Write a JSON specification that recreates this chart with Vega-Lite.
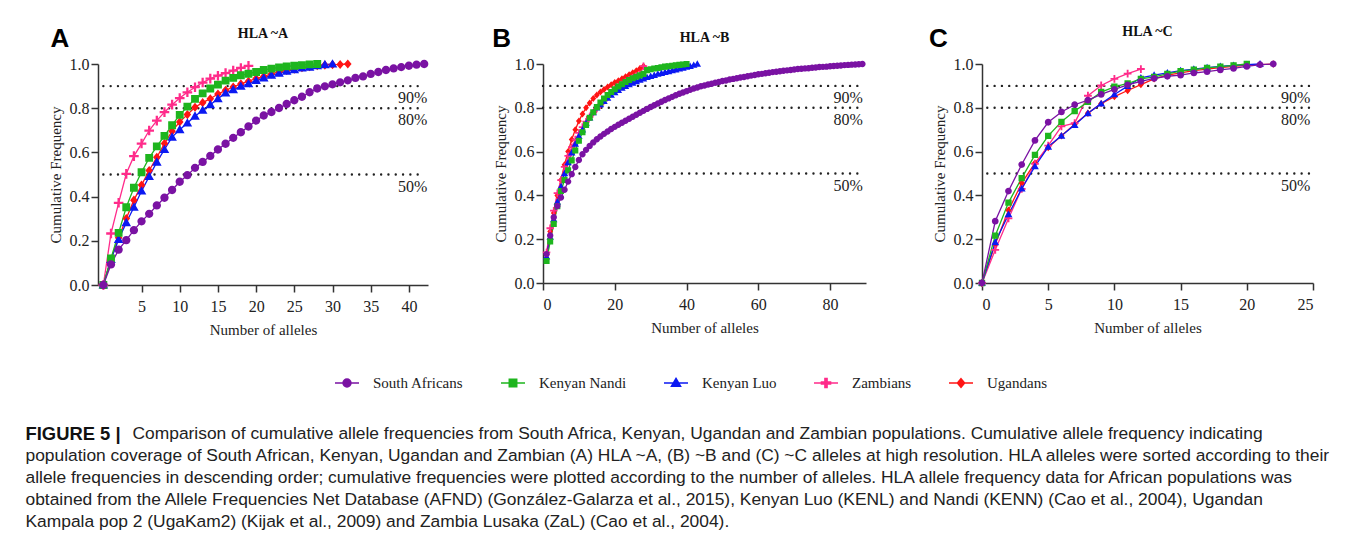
{
  "$schema": "https://vega.github.io/schema/vega-lite/v6.json",
  "background": "white",
  "padding": {"left": 25, "top": 24, "right": 5, "bottom": 5},
  "datasets": {
    "refs": [{"lvl": 0.5, "lab": "50%"}, {"lvl": 0.8, "lab": "80%"}, {"lvl": 0.9, "lab": "90%"}],
    "caption": [
      {"line": 1, "part": "bold", "text": "FIGURE 5 |"},
      {"line": 1, "part": "lead", "text": "Comparison of cumulative allele frequencies from South Africa, Kenyan, Ugandan and Zambian populations. Cumulative allele frequency indicating"},
      {"line": 2, "part": "body", "text": "population coverage of South African, Kenyan, Ugandan and Zambian (A) HLA ~A, (B) ~B and (C) ~C alleles at high resolution. HLA alleles were sorted according to their"},
      {"line": 3, "part": "body", "text": "allele frequencies in descending order; cumulative frequencies were plotted according to the number of alleles. HLA allele frequency data for African populations was"},
      {"line": 4, "part": "body", "text": "obtained from the Allele Frequencies Net Database (AFND) (González-Galarza et al., 2015), Kenyan Luo (KENL) and Nandi (KENN) (Cao et al., 2004), Ugandan"},
      {"line": 5, "part": "body", "text": "Kampala pop 2 (UgaKam2) (Kijak et al., 2009) and Zambia Lusaka (ZaL) (Cao et al., 2004)."}
    ],
    "letters": [{"panel": "A", "n": -5.7, "f": 1.115}, {"panel": "B", "n": -11.5, "f": 1.116}, {"panel": "C", "n": -3.3, "f": 1.116}],
    "curves": [
      {"panel":"A","pop":"Ugandans","n":0,"f":0},{"panel":"A","pop":"Ugandans","n":1,"f":0.116},{"panel":"A","pop":"Ugandans","n":2,"f":0.214},{"panel":"A","pop":"Ugandans","n":3,"f":0.301},{"panel":"A","pop":"Ugandans","n":4,"f":0.384},{"panel":"A","pop":"Ugandans","n":5,"f":0.452},{"panel":"A","pop":"Ugandans","n":6,"f":0.518},{"panel":"A","pop":"Ugandans","n":7,"f":0.578},{"panel":"A","pop":"Ugandans","n":8,"f":0.64},{"panel":"A","pop":"Ugandans","n":9,"f":0.696},{"panel":"A","pop":"Ugandans","n":10,"f":0.738},{"panel":"A","pop":"Ugandans","n":11,"f":0.771},{"panel":"A","pop":"Ugandans","n":12,"f":0.804},{"panel":"A","pop":"Ugandans","n":13,"f":0.825},{"panel":"A","pop":"Ugandans","n":14,"f":0.843},{"panel":"A","pop":"Ugandans","n":15,"f":0.864},{"panel":"A","pop":"Ugandans","n":16,"f":0.881},{"panel":"A","pop":"Ugandans","n":17,"f":0.896},{"panel":"A","pop":"Ugandans","n":18,"f":0.91},{"panel":"A","pop":"Ugandans","n":19,"f":0.922},{"panel":"A","pop":"Ugandans","n":20,"f":0.934},{"panel":"A","pop":"Ugandans","n":21,"f":0.944},{"panel":"A","pop":"Ugandans","n":22,"f":0.955},{"panel":"A","pop":"Ugandans","n":23,"f":0.964},{"panel":"A","pop":"Ugandans","n":24,"f":0.971},{"panel":"A","pop":"Ugandans","n":25,"f":0.977},{"panel":"A","pop":"Ugandans","n":26,"f":0.983},{"panel":"A","pop":"Ugandans","n":27,"f":0.988},{"panel":"A","pop":"Ugandans","n":28,"f":0.992},{"panel":"A","pop":"Ugandans","n":29,"f":0.995},{"panel":"A","pop":"Ugandans","n":30,"f":0.997},{"panel":"A","pop":"Ugandans","n":31,"f":0.998},{"panel":"A","pop":"Ugandans","n":32,"f":1.0},
      {"panel":"A","pop":"Zambians","n":0,"f":0},{"panel":"A","pop":"Zambians","n":1,"f":0.233},{"panel":"A","pop":"Zambians","n":2,"f":0.372},{"panel":"A","pop":"Zambians","n":3,"f":0.503},{"panel":"A","pop":"Zambians","n":4,"f":0.583},{"panel":"A","pop":"Zambians","n":5,"f":0.64},{"panel":"A","pop":"Zambians","n":6,"f":0.699},{"panel":"A","pop":"Zambians","n":7,"f":0.744},{"panel":"A","pop":"Zambians","n":8,"f":0.782},{"panel":"A","pop":"Zambians","n":9,"f":0.816},{"panel":"A","pop":"Zambians","n":10,"f":0.846},{"panel":"A","pop":"Zambians","n":11,"f":0.872},{"panel":"A","pop":"Zambians","n":12,"f":0.895},{"panel":"A","pop":"Zambians","n":13,"f":0.916},{"panel":"A","pop":"Zambians","n":14,"f":0.934},{"panel":"A","pop":"Zambians","n":15,"f":0.947},{"panel":"A","pop":"Zambians","n":16,"f":0.959},{"panel":"A","pop":"Zambians","n":17,"f":0.97},{"panel":"A","pop":"Zambians","n":18,"f":0.982},{"panel":"A","pop":"Zambians","n":19,"f":0.992},
      {"panel":"A","pop":"Kenyan Luo","n":0,"f":0},{"panel":"A","pop":"Kenyan Luo","n":1,"f":0.116},{"panel":"A","pop":"Kenyan Luo","n":2,"f":0.206},{"panel":"A","pop":"Kenyan Luo","n":3,"f":0.282},{"panel":"A","pop":"Kenyan Luo","n":4,"f":0.352},{"panel":"A","pop":"Kenyan Luo","n":5,"f":0.425},{"panel":"A","pop":"Kenyan Luo","n":6,"f":0.491},{"panel":"A","pop":"Kenyan Luo","n":7,"f":0.556},{"panel":"A","pop":"Kenyan Luo","n":8,"f":0.613},{"panel":"A","pop":"Kenyan Luo","n":9,"f":0.669},{"panel":"A","pop":"Kenyan Luo","n":10,"f":0.703},{"panel":"A","pop":"Kenyan Luo","n":11,"f":0.733},{"panel":"A","pop":"Kenyan Luo","n":12,"f":0.764},{"panel":"A","pop":"Kenyan Luo","n":13,"f":0.791},{"panel":"A","pop":"Kenyan Luo","n":14,"f":0.816},{"panel":"A","pop":"Kenyan Luo","n":15,"f":0.843},{"panel":"A","pop":"Kenyan Luo","n":16,"f":0.869},{"panel":"A","pop":"Kenyan Luo","n":17,"f":0.884},{"panel":"A","pop":"Kenyan Luo","n":18,"f":0.899},{"panel":"A","pop":"Kenyan Luo","n":19,"f":0.911},{"panel":"A","pop":"Kenyan Luo","n":20,"f":0.925},{"panel":"A","pop":"Kenyan Luo","n":21,"f":0.937},{"panel":"A","pop":"Kenyan Luo","n":22,"f":0.949},{"panel":"A","pop":"Kenyan Luo","n":23,"f":0.958},{"panel":"A","pop":"Kenyan Luo","n":24,"f":0.967},{"panel":"A","pop":"Kenyan Luo","n":25,"f":0.974},{"panel":"A","pop":"Kenyan Luo","n":26,"f":0.982},{"panel":"A","pop":"Kenyan Luo","n":27,"f":0.986},{"panel":"A","pop":"Kenyan Luo","n":28,"f":0.992},{"panel":"A","pop":"Kenyan Luo","n":29,"f":0.997},{"panel":"A","pop":"Kenyan Luo","n":30,"f":1.0},
      {"panel":"A","pop":"Kenyan Nandi","n":0,"f":0},{"panel":"A","pop":"Kenyan Nandi","n":1,"f":0.12},{"panel":"A","pop":"Kenyan Nandi","n":2,"f":0.236},{"panel":"A","pop":"Kenyan Nandi","n":3,"f":0.352},{"panel":"A","pop":"Kenyan Nandi","n":4,"f":0.44},{"panel":"A","pop":"Kenyan Nandi","n":5,"f":0.51},{"panel":"A","pop":"Kenyan Nandi","n":6,"f":0.575},{"panel":"A","pop":"Kenyan Nandi","n":7,"f":0.627},{"panel":"A","pop":"Kenyan Nandi","n":8,"f":0.675},{"panel":"A","pop":"Kenyan Nandi","n":9,"f":0.723},{"panel":"A","pop":"Kenyan Nandi","n":10,"f":0.77},{"panel":"A","pop":"Kenyan Nandi","n":11,"f":0.807},{"panel":"A","pop":"Kenyan Nandi","n":12,"f":0.842},{"panel":"A","pop":"Kenyan Nandi","n":13,"f":0.867},{"panel":"A","pop":"Kenyan Nandi","n":14,"f":0.889},{"panel":"A","pop":"Kenyan Nandi","n":15,"f":0.907},{"panel":"A","pop":"Kenyan Nandi","n":16,"f":0.925},{"panel":"A","pop":"Kenyan Nandi","n":17,"f":0.937},{"panel":"A","pop":"Kenyan Nandi","n":18,"f":0.949},{"panel":"A","pop":"Kenyan Nandi","n":19,"f":0.956},{"panel":"A","pop":"Kenyan Nandi","n":20,"f":0.964},{"panel":"A","pop":"Kenyan Nandi","n":21,"f":0.973},{"panel":"A","pop":"Kenyan Nandi","n":22,"f":0.979},{"panel":"A","pop":"Kenyan Nandi","n":23,"f":0.985},{"panel":"A","pop":"Kenyan Nandi","n":24,"f":0.989},{"panel":"A","pop":"Kenyan Nandi","n":25,"f":0.992},{"panel":"A","pop":"Kenyan Nandi","n":26,"f":0.995},{"panel":"A","pop":"Kenyan Nandi","n":27,"f":0.998},{"panel":"A","pop":"Kenyan Nandi","n":28,"f":1.0},
      {"panel":"A","pop":"South Africans","n":0,"f":0},{"panel":"A","pop":"South Africans","n":1,"f":0.093},{"panel":"A","pop":"South Africans","n":2,"f":0.16},{"panel":"A","pop":"South Africans","n":3,"f":0.203},{"panel":"A","pop":"South Africans","n":4,"f":0.248},{"panel":"A","pop":"South Africans","n":5,"f":0.288},{"panel":"A","pop":"South Africans","n":6,"f":0.322},{"panel":"A","pop":"South Africans","n":7,"f":0.36},{"panel":"A","pop":"South Africans","n":8,"f":0.395},{"panel":"A","pop":"South Africans","n":9,"f":0.43},{"panel":"A","pop":"South Africans","n":10,"f":0.467},{"panel":"A","pop":"South Africans","n":11,"f":0.497},{"panel":"A","pop":"South Africans","n":12,"f":0.53},{"panel":"A","pop":"South Africans","n":13,"f":0.557},{"panel":"A","pop":"South Africans","n":14,"f":0.584},{"panel":"A","pop":"South Africans","n":15,"f":0.613},{"panel":"A","pop":"South Africans","n":16,"f":0.639},{"panel":"A","pop":"South Africans","n":17,"f":0.666},{"panel":"A","pop":"South Africans","n":18,"f":0.691},{"panel":"A","pop":"South Africans","n":19,"f":0.717},{"panel":"A","pop":"South Africans","n":20,"f":0.744},{"panel":"A","pop":"South Africans","n":21,"f":0.767},{"panel":"A","pop":"South Africans","n":22,"f":0.783},{"panel":"A","pop":"South Africans","n":23,"f":0.801},{"panel":"A","pop":"South Africans","n":24,"f":0.819},{"panel":"A","pop":"South Africans","n":25,"f":0.836},{"panel":"A","pop":"South Africans","n":26,"f":0.852},{"panel":"A","pop":"South Africans","n":27,"f":0.872},{"panel":"A","pop":"South Africans","n":28,"f":0.889},{"panel":"A","pop":"South Africans","n":29,"f":0.899},{"panel":"A","pop":"South Africans","n":30,"f":0.908},{"panel":"A","pop":"South Africans","n":31,"f":0.917},{"panel":"A","pop":"South Africans","n":32,"f":0.926},{"panel":"A","pop":"South Africans","n":33,"f":0.937},{"panel":"A","pop":"South Africans","n":34,"f":0.944},{"panel":"A","pop":"South Africans","n":35,"f":0.955},{"panel":"A","pop":"South Africans","n":36,"f":0.964},{"panel":"A","pop":"South Africans","n":37,"f":0.973},{"panel":"A","pop":"South Africans","n":38,"f":0.98},{"panel":"A","pop":"South Africans","n":39,"f":0.986},{"panel":"A","pop":"South Africans","n":40,"f":0.992},{"panel":"A","pop":"South Africans","n":41,"f":0.997},{"panel":"A","pop":"South Africans","n":42,"f":1.0},

      {"panel":"B","pop":"Ugandans","n":1,"f":0.13},{"panel":"B","pop":"Ugandans","n":2,"f":0.235},{"panel":"B","pop":"Ugandans","n":3,"f":0.32},{"panel":"B","pop":"Ugandans","n":4,"f":0.4},{"panel":"B","pop":"Ugandans","n":5,"f":0.47},{"panel":"B","pop":"Ugandans","n":6,"f":0.54},{"panel":"B","pop":"Ugandans","n":7,"f":0.6},{"panel":"B","pop":"Ugandans","n":8,"f":0.655},{"panel":"B","pop":"Ugandans","n":9,"f":0.7},{"panel":"B","pop":"Ugandans","n":10,"f":0.74},{"panel":"B","pop":"Ugandans","n":11,"f":0.772},{"panel":"B","pop":"Ugandans","n":12,"f":0.8},{"panel":"B","pop":"Ugandans","n":13,"f":0.822},{"panel":"B","pop":"Ugandans","n":14,"f":0.842},{"panel":"B","pop":"Ugandans","n":15,"f":0.858},{"panel":"B","pop":"Ugandans","n":16,"f":0.872},{"panel":"B","pop":"Ugandans","n":17,"f":0.884},{"panel":"B","pop":"Ugandans","n":18,"f":0.895},{"panel":"B","pop":"Ugandans","n":19,"f":0.905},{"panel":"B","pop":"Ugandans","n":20,"f":0.915},{"panel":"B","pop":"Ugandans","n":21,"f":0.924},{"panel":"B","pop":"Ugandans","n":22,"f":0.933},{"panel":"B","pop":"Ugandans","n":23,"f":0.942},{"panel":"B","pop":"Ugandans","n":24,"f":0.951},{"panel":"B","pop":"Ugandans","n":25,"f":0.96},{"panel":"B","pop":"Ugandans","n":26,"f":0.969},{"panel":"B","pop":"Ugandans","n":27,"f":0.979},{"panel":"B","pop":"Ugandans","n":28,"f":0.99},
      {"panel":"B","pop":"Zambians","n":1,"f":0.14},{"panel":"B","pop":"Zambians","n":2,"f":0.25},{"panel":"B","pop":"Zambians","n":3,"f":0.33},{"panel":"B","pop":"Zambians","n":4,"f":0.41},{"panel":"B","pop":"Zambians","n":5,"f":0.47},{"panel":"B","pop":"Zambians","n":6,"f":0.53},{"panel":"B","pop":"Zambians","n":7,"f":0.58},{"panel":"B","pop":"Zambians","n":8,"f":0.62},{"panel":"B","pop":"Zambians","n":9,"f":0.655},{"panel":"B","pop":"Zambians","n":10,"f":0.685},{"panel":"B","pop":"Zambians","n":11,"f":0.712},{"panel":"B","pop":"Zambians","n":12,"f":0.737},{"panel":"B","pop":"Zambians","n":13,"f":0.758},{"panel":"B","pop":"Zambians","n":14,"f":0.778},{"panel":"B","pop":"Zambians","n":15,"f":0.797},{"panel":"B","pop":"Zambians","n":16,"f":0.815},{"panel":"B","pop":"Zambians","n":17,"f":0.833},{"panel":"B","pop":"Zambians","n":18,"f":0.85},{"panel":"B","pop":"Zambians","n":19,"f":0.866},{"panel":"B","pop":"Zambians","n":20,"f":0.881},{"panel":"B","pop":"Zambians","n":21,"f":0.895},{"panel":"B","pop":"Zambians","n":22,"f":0.907},{"panel":"B","pop":"Zambians","n":23,"f":0.918},{"panel":"B","pop":"Zambians","n":24,"f":0.928},{"panel":"B","pop":"Zambians","n":25,"f":0.937},{"panel":"B","pop":"Zambians","n":26,"f":0.945},{"panel":"B","pop":"Zambians","n":27,"f":0.953},{"panel":"B","pop":"Zambians","n":28,"f":0.99},
      {"panel":"B","pop":"Kenyan Luo","n":1,"f":0.12},{"panel":"B","pop":"Kenyan Luo","n":2,"f":0.21},{"panel":"B","pop":"Kenyan Luo","n":3,"f":0.29},{"panel":"B","pop":"Kenyan Luo","n":4,"f":0.37},{"panel":"B","pop":"Kenyan Luo","n":5,"f":0.44},{"panel":"B","pop":"Kenyan Luo","n":6,"f":0.5},{"panel":"B","pop":"Kenyan Luo","n":7,"f":0.55},{"panel":"B","pop":"Kenyan Luo","n":8,"f":0.595},{"panel":"B","pop":"Kenyan Luo","n":9,"f":0.635},{"panel":"B","pop":"Kenyan Luo","n":10,"f":0.67},{"panel":"B","pop":"Kenyan Luo","n":11,"f":0.7},{"panel":"B","pop":"Kenyan Luo","n":12,"f":0.73},{"panel":"B","pop":"Kenyan Luo","n":13,"f":0.755},{"panel":"B","pop":"Kenyan Luo","n":14,"f":0.778},{"panel":"B","pop":"Kenyan Luo","n":15,"f":0.8},{"panel":"B","pop":"Kenyan Luo","n":16,"f":0.815},{"panel":"B","pop":"Kenyan Luo","n":17,"f":0.83},{"panel":"B","pop":"Kenyan Luo","n":18,"f":0.845},{"panel":"B","pop":"Kenyan Luo","n":19,"f":0.858},{"panel":"B","pop":"Kenyan Luo","n":20,"f":0.87},{"panel":"B","pop":"Kenyan Luo","n":21,"f":0.88},{"panel":"B","pop":"Kenyan Luo","n":22,"f":0.89},{"panel":"B","pop":"Kenyan Luo","n":23,"f":0.898},{"panel":"B","pop":"Kenyan Luo","n":24,"f":0.906},{"panel":"B","pop":"Kenyan Luo","n":25,"f":0.913},{"panel":"B","pop":"Kenyan Luo","n":26,"f":0.92},{"panel":"B","pop":"Kenyan Luo","n":27,"f":0.927},{"panel":"B","pop":"Kenyan Luo","n":28,"f":0.933},{"panel":"B","pop":"Kenyan Luo","n":29,"f":0.939},{"panel":"B","pop":"Kenyan Luo","n":30,"f":0.944},{"panel":"B","pop":"Kenyan Luo","n":31,"f":0.949},{"panel":"B","pop":"Kenyan Luo","n":32,"f":0.954},{"panel":"B","pop":"Kenyan Luo","n":33,"f":0.958},{"panel":"B","pop":"Kenyan Luo","n":34,"f":0.962},{"panel":"B","pop":"Kenyan Luo","n":35,"f":0.966},{"panel":"B","pop":"Kenyan Luo","n":36,"f":0.97},{"panel":"B","pop":"Kenyan Luo","n":37,"f":0.974},{"panel":"B","pop":"Kenyan Luo","n":38,"f":0.978},{"panel":"B","pop":"Kenyan Luo","n":39,"f":0.982},{"panel":"B","pop":"Kenyan Luo","n":40,"f":0.986},{"panel":"B","pop":"Kenyan Luo","n":41,"f":0.99},{"panel":"B","pop":"Kenyan Luo","n":42,"f":0.995},{"panel":"B","pop":"Kenyan Luo","n":43,"f":1.0},
      {"panel":"B","pop":"Kenyan Nandi","n":1,"f":0.1},{"panel":"B","pop":"Kenyan Nandi","n":2,"f":0.19},{"panel":"B","pop":"Kenyan Nandi","n":3,"f":0.27},{"panel":"B","pop":"Kenyan Nandi","n":4,"f":0.35},{"panel":"B","pop":"Kenyan Nandi","n":5,"f":0.42},{"panel":"B","pop":"Kenyan Nandi","n":6,"f":0.47},{"panel":"B","pop":"Kenyan Nandi","n":7,"f":0.515},{"panel":"B","pop":"Kenyan Nandi","n":8,"f":0.56},{"panel":"B","pop":"Kenyan Nandi","n":9,"f":0.605},{"panel":"B","pop":"Kenyan Nandi","n":10,"f":0.65},{"panel":"B","pop":"Kenyan Nandi","n":11,"f":0.688},{"panel":"B","pop":"Kenyan Nandi","n":12,"f":0.722},{"panel":"B","pop":"Kenyan Nandi","n":13,"f":0.755},{"panel":"B","pop":"Kenyan Nandi","n":14,"f":0.78},{"panel":"B","pop":"Kenyan Nandi","n":15,"f":0.803},{"panel":"B","pop":"Kenyan Nandi","n":16,"f":0.824},{"panel":"B","pop":"Kenyan Nandi","n":17,"f":0.842},{"panel":"B","pop":"Kenyan Nandi","n":18,"f":0.858},{"panel":"B","pop":"Kenyan Nandi","n":19,"f":0.872},{"panel":"B","pop":"Kenyan Nandi","n":20,"f":0.885},{"panel":"B","pop":"Kenyan Nandi","n":21,"f":0.897},{"panel":"B","pop":"Kenyan Nandi","n":22,"f":0.908},{"panel":"B","pop":"Kenyan Nandi","n":23,"f":0.918},{"panel":"B","pop":"Kenyan Nandi","n":24,"f":0.927},{"panel":"B","pop":"Kenyan Nandi","n":25,"f":0.935},{"panel":"B","pop":"Kenyan Nandi","n":26,"f":0.942},{"panel":"B","pop":"Kenyan Nandi","n":27,"f":0.948},{"panel":"B","pop":"Kenyan Nandi","n":28,"f":0.955},{"panel":"B","pop":"Kenyan Nandi","n":29,"f":0.972},{"panel":"B","pop":"Kenyan Nandi","n":30,"f":0.976},{"panel":"B","pop":"Kenyan Nandi","n":31,"f":0.979},{"panel":"B","pop":"Kenyan Nandi","n":32,"f":0.982},{"panel":"B","pop":"Kenyan Nandi","n":33,"f":0.985},{"panel":"B","pop":"Kenyan Nandi","n":34,"f":0.988},{"panel":"B","pop":"Kenyan Nandi","n":35,"f":0.99},{"panel":"B","pop":"Kenyan Nandi","n":36,"f":0.992},{"panel":"B","pop":"Kenyan Nandi","n":37,"f":0.994},{"panel":"B","pop":"Kenyan Nandi","n":38,"f":0.996},{"panel":"B","pop":"Kenyan Nandi","n":39,"f":0.998},{"panel":"B","pop":"Kenyan Nandi","n":40,"f":1.0},
      {"panel":"B","pop":"South Africans","n":1,"f":0.132},{"panel":"B","pop":"South Africans","n":2,"f":0.217},{"panel":"B","pop":"South Africans","n":3,"f":0.3},{"panel":"B","pop":"South Africans","n":4,"f":0.352},{"panel":"B","pop":"South Africans","n":5,"f":0.39},{"panel":"B","pop":"South Africans","n":6,"f":0.426},{"panel":"B","pop":"South Africans","n":7,"f":0.463},{"panel":"B","pop":"South Africans","n":8,"f":0.497},{"panel":"B","pop":"South Africans","n":9,"f":0.53},{"panel":"B","pop":"South Africans","n":10,"f":0.562},{"panel":"B","pop":"South Africans","n":11,"f":0.588},{"panel":"B","pop":"South Africans","n":12,"f":0.608},{"panel":"B","pop":"South Africans","n":13,"f":0.626},{"panel":"B","pop":"South Africans","n":14,"f":0.642},{"panel":"B","pop":"South Africans","n":15,"f":0.656},{"panel":"B","pop":"South Africans","n":16,"f":0.669},{"panel":"B","pop":"South Africans","n":17,"f":0.681},{"panel":"B","pop":"South Africans","n":18,"f":0.692},{"panel":"B","pop":"South Africans","n":19,"f":0.703},{"panel":"B","pop":"South Africans","n":20,"f":0.713},{"panel":"B","pop":"South Africans","n":21,"f":0.723},{"panel":"B","pop":"South Africans","n":22,"f":0.732},{"panel":"B","pop":"South Africans","n":23,"f":0.741},{"panel":"B","pop":"South Africans","n":24,"f":0.75},{"panel":"B","pop":"South Africans","n":25,"f":0.759},{"panel":"B","pop":"South Africans","n":26,"f":0.768},{"panel":"B","pop":"South Africans","n":27,"f":0.777},{"panel":"B","pop":"South Africans","n":28,"f":0.786},{"panel":"B","pop":"South Africans","n":29,"f":0.795},{"panel":"B","pop":"South Africans","n":30,"f":0.804},{"panel":"B","pop":"South Africans","n":31,"f":0.812},{"panel":"B","pop":"South Africans","n":32,"f":0.82},{"panel":"B","pop":"South Africans","n":33,"f":0.828},{"panel":"B","pop":"South Africans","n":34,"f":0.836},{"panel":"B","pop":"South Africans","n":35,"f":0.843},{"panel":"B","pop":"South Africans","n":36,"f":0.85},{"panel":"B","pop":"South Africans","n":37,"f":0.857},{"panel":"B","pop":"South Africans","n":38,"f":0.864},{"panel":"B","pop":"South Africans","n":39,"f":0.87},{"panel":"B","pop":"South Africans","n":40,"f":0.876},{"panel":"B","pop":"South Africans","n":41,"f":0.882},{"panel":"B","pop":"South Africans","n":42,"f":0.888},{"panel":"B","pop":"South Africans","n":43,"f":0.893},{"panel":"B","pop":"South Africans","n":44,"f":0.898},{"panel":"B","pop":"South Africans","n":45,"f":0.902},{"panel":"B","pop":"South Africans","n":46,"f":0.906},{"panel":"B","pop":"South Africans","n":47,"f":0.91},{"panel":"B","pop":"South Africans","n":48,"f":0.914},{"panel":"B","pop":"South Africans","n":49,"f":0.918},{"panel":"B","pop":"South Africans","n":50,"f":0.922},{"panel":"B","pop":"South Africans","n":51,"f":0.925},{"panel":"B","pop":"South Africans","n":52,"f":0.929},{"panel":"B","pop":"South Africans","n":53,"f":0.932},{"panel":"B","pop":"South Africans","n":54,"f":0.935},{"panel":"B","pop":"South Africans","n":55,"f":0.938},{"panel":"B","pop":"South Africans","n":56,"f":0.941},{"panel":"B","pop":"South Africans","n":57,"f":0.944},{"panel":"B","pop":"South Africans","n":58,"f":0.947},{"panel":"B","pop":"South Africans","n":59,"f":0.95},{"panel":"B","pop":"South Africans","n":60,"f":0.953},{"panel":"B","pop":"South Africans","n":61,"f":0.955},{"panel":"B","pop":"South Africans","n":62,"f":0.958},{"panel":"B","pop":"South Africans","n":63,"f":0.96},{"panel":"B","pop":"South Africans","n":64,"f":0.963},{"panel":"B","pop":"South Africans","n":65,"f":0.965},{"panel":"B","pop":"South Africans","n":66,"f":0.967},{"panel":"B","pop":"South Africans","n":67,"f":0.969},{"panel":"B","pop":"South Africans","n":68,"f":0.971},{"panel":"B","pop":"South Africans","n":69,"f":0.973},{"panel":"B","pop":"South Africans","n":70,"f":0.975},{"panel":"B","pop":"South Africans","n":71,"f":0.977},{"panel":"B","pop":"South Africans","n":72,"f":0.978},{"panel":"B","pop":"South Africans","n":73,"f":0.98},{"panel":"B","pop":"South Africans","n":74,"f":0.981},{"panel":"B","pop":"South Africans","n":75,"f":0.983},{"panel":"B","pop":"South Africans","n":76,"f":0.984},{"panel":"B","pop":"South Africans","n":77,"f":0.986},{"panel":"B","pop":"South Africans","n":78,"f":0.987},{"panel":"B","pop":"South Africans","n":79,"f":0.988},{"panel":"B","pop":"South Africans","n":80,"f":0.99},{"panel":"B","pop":"South Africans","n":81,"f":0.991},{"panel":"B","pop":"South Africans","n":82,"f":0.992},{"panel":"B","pop":"South Africans","n":83,"f":0.993},{"panel":"B","pop":"South Africans","n":84,"f":0.995},{"panel":"B","pop":"South Africans","n":85,"f":0.996},{"panel":"B","pop":"South Africans","n":86,"f":0.997},{"panel":"B","pop":"South Africans","n":87,"f":0.998},{"panel":"B","pop":"South Africans","n":88,"f":0.999},{"panel":"B","pop":"South Africans","n":89,"f":1.0},

      {"panel":"C","pop":"Ugandans","n":0,"f":0},{"panel":"C","pop":"Ugandans","n":1,"f":0.177},{"panel":"C","pop":"Ugandans","n":2,"f":0.332},{"panel":"C","pop":"Ugandans","n":3,"f":0.456},{"panel":"C","pop":"Ugandans","n":4,"f":0.548},{"panel":"C","pop":"Ugandans","n":5,"f":0.619},{"panel":"C","pop":"Ugandans","n":6,"f":0.672},{"panel":"C","pop":"Ugandans","n":7,"f":0.725},{"panel":"C","pop":"Ugandans","n":8,"f":0.775},{"panel":"C","pop":"Ugandans","n":9,"f":0.819},{"panel":"C","pop":"Ugandans","n":10,"f":0.851},{"panel":"C","pop":"Ugandans","n":11,"f":0.879},{"panel":"C","pop":"Ugandans","n":12,"f":0.906},{"panel":"C","pop":"Ugandans","n":13,"f":0.932},{"panel":"C","pop":"Ugandans","n":14,"f":0.949},{"panel":"C","pop":"Ugandans","n":15,"f":0.959},{"panel":"C","pop":"Ugandans","n":16,"f":0.97},{"panel":"C","pop":"Ugandans","n":17,"f":0.977},{"panel":"C","pop":"Ugandans","n":18,"f":0.983},{"panel":"C","pop":"Ugandans","n":19,"f":0.989},{"panel":"C","pop":"Ugandans","n":20,"f":0.994},{"panel":"C","pop":"Ugandans","n":21,"f":0.997},{"panel":"C","pop":"Ugandans","n":22,"f":1.0},
      {"panel":"C","pop":"Zambians","n":0,"f":0},{"panel":"C","pop":"Zambians","n":1,"f":0.151},{"panel":"C","pop":"Zambians","n":2,"f":0.295},{"panel":"C","pop":"Zambians","n":3,"f":0.43},{"panel":"C","pop":"Zambians","n":4,"f":0.544},{"panel":"C","pop":"Zambians","n":5,"f":0.627},{"panel":"C","pop":"Zambians","n":6,"f":0.715},{"panel":"C","pop":"Zambians","n":7,"f":0.73},{"panel":"C","pop":"Zambians","n":8,"f":0.855},{"panel":"C","pop":"Zambians","n":9,"f":0.902},{"panel":"C","pop":"Zambians","n":10,"f":0.932},{"panel":"C","pop":"Zambians","n":11,"f":0.956},{"panel":"C","pop":"Zambians","n":12,"f":0.977},
      {"panel":"C","pop":"Kenyan Luo","n":0,"f":0},{"panel":"C","pop":"Kenyan Luo","n":1,"f":0.186},{"panel":"C","pop":"Kenyan Luo","n":2,"f":0.313},{"panel":"C","pop":"Kenyan Luo","n":3,"f":0.431},{"panel":"C","pop":"Kenyan Luo","n":4,"f":0.532},{"panel":"C","pop":"Kenyan Luo","n":5,"f":0.622},{"panel":"C","pop":"Kenyan Luo","n":6,"f":0.672},{"panel":"C","pop":"Kenyan Luo","n":7,"f":0.721},{"panel":"C","pop":"Kenyan Luo","n":8,"f":0.775},{"panel":"C","pop":"Kenyan Luo","n":9,"f":0.819},{"panel":"C","pop":"Kenyan Luo","n":10,"f":0.861},{"panel":"C","pop":"Kenyan Luo","n":11,"f":0.899},{"panel":"C","pop":"Kenyan Luo","n":12,"f":0.937},{"panel":"C","pop":"Kenyan Luo","n":13,"f":0.949},{"panel":"C","pop":"Kenyan Luo","n":14,"f":0.959},{"panel":"C","pop":"Kenyan Luo","n":15,"f":0.97},{"panel":"C","pop":"Kenyan Luo","n":16,"f":0.977},{"panel":"C","pop":"Kenyan Luo","n":17,"f":0.983},{"panel":"C","pop":"Kenyan Luo","n":18,"f":0.989},{"panel":"C","pop":"Kenyan Luo","n":19,"f":0.994},{"panel":"C","pop":"Kenyan Luo","n":20,"f":0.997},{"panel":"C","pop":"Kenyan Luo","n":21,"f":1.0},
      {"panel":"C","pop":"Kenyan Nandi","n":0,"f":0},{"panel":"C","pop":"Kenyan Nandi","n":1,"f":0.216},{"panel":"C","pop":"Kenyan Nandi","n":2,"f":0.367},{"panel":"C","pop":"Kenyan Nandi","n":3,"f":0.479},{"panel":"C","pop":"Kenyan Nandi","n":4,"f":0.585},{"panel":"C","pop":"Kenyan Nandi","n":5,"f":0.672},{"panel":"C","pop":"Kenyan Nandi","n":6,"f":0.736},{"panel":"C","pop":"Kenyan Nandi","n":7,"f":0.785},{"panel":"C","pop":"Kenyan Nandi","n":8,"f":0.827},{"panel":"C","pop":"Kenyan Nandi","n":9,"f":0.872},{"panel":"C","pop":"Kenyan Nandi","n":10,"f":0.896},{"panel":"C","pop":"Kenyan Nandi","n":11,"f":0.911},{"panel":"C","pop":"Kenyan Nandi","n":12,"f":0.932},{"panel":"C","pop":"Kenyan Nandi","n":13,"f":0.941},{"panel":"C","pop":"Kenyan Nandi","n":14,"f":0.955},{"panel":"C","pop":"Kenyan Nandi","n":15,"f":0.967},{"panel":"C","pop":"Kenyan Nandi","n":16,"f":0.974},{"panel":"C","pop":"Kenyan Nandi","n":17,"f":0.982},{"panel":"C","pop":"Kenyan Nandi","n":18,"f":0.988},{"panel":"C","pop":"Kenyan Nandi","n":19,"f":0.994},{"panel":"C","pop":"Kenyan Nandi","n":20,"f":1.0},
      {"panel":"C","pop":"South Africans","n":0,"f":0},{"panel":"C","pop":"South Africans","n":1,"f":0.282},{"panel":"C","pop":"South Africans","n":2,"f":0.42},{"panel":"C","pop":"South Africans","n":3,"f":0.541},{"panel":"C","pop":"South Africans","n":4,"f":0.651},{"panel":"C","pop":"South Africans","n":5,"f":0.734},{"panel":"C","pop":"South Africans","n":6,"f":0.781},{"panel":"C","pop":"South Africans","n":7,"f":0.814},{"panel":"C","pop":"South Africans","n":8,"f":0.835},{"panel":"C","pop":"South Africans","n":9,"f":0.861},{"panel":"C","pop":"South Africans","n":10,"f":0.884},{"panel":"C","pop":"South Africans","n":11,"f":0.905},{"panel":"C","pop":"South Africans","n":12,"f":0.921},{"panel":"C","pop":"South Africans","n":13,"f":0.934},{"panel":"C","pop":"South Africans","n":14,"f":0.944},{"panel":"C","pop":"South Africans","n":15,"f":0.949},{"panel":"C","pop":"South Africans","n":16,"f":0.959},{"panel":"C","pop":"South Africans","n":17,"f":0.965},{"panel":"C","pop":"South Africans","n":18,"f":0.973},{"panel":"C","pop":"South Africans","n":19,"f":0.98},{"panel":"C","pop":"South Africans","n":20,"f":0.989},{"panel":"C","pop":"South Africans","n":21,"f":0.997},{"panel":"C","pop":"South Africans","n":22,"f":1.0}
    ]
  },
  "vconcat": [
    {
      "hconcat": [
        {
          "width": 330, "height": 221,
          "title": {"text": "HLA ~A", "anchor": "middle", "frame": "group", "font": "Liberation Serif", "fontSize": 14, "fontWeight": "bold", "color": "#111", "offset": -15.5},
          "layer": [
            {"data": {"name": "refs"}, "mark": {"type": "rule", "strokeDash": [0.01, 7.3], "strokeCap": "round", "strokeWidth": 2.4, "color": "#222"},
             "encoding": {
               "y": {"field": "lvl", "type": "quantitative", "scale": {"domain": [0, 1], "nice": false}, "axis": {"values": [0, 0.2, 0.4, 0.6, 0.8, 1], "format": ".1f", "title": "Cumulative Frequency"}},
               "x": {"datum": 0, "type": "quantitative", "scale": {"domain": [-0.7, 42.5], "nice": false, "zero": false}, "axis": {"values": [5, 10, 15, 20, 25, 30, 35, 40], "title": "Number of alleles"}},
               "x2": {"datum": 42}
             }},
            {"data": {"name": "refs"}, "mark": {"type": "text", "align": "right", "baseline": "top", "dy": 4, "font": "Liberation Serif", "fontSize": 16, "color": "#222"},
             "encoding": {
               "y": {"field": "lvl", "type": "quantitative", "axis": {"values": [0, 0.2, 0.4, 0.6, 0.8, 1], "format": ".1f", "title": "Cumulative Frequency"}},
               "x": {"datum": 42.4, "type": "quantitative", "axis": {"values": [5, 10, 15, 20, 25, 30, 35, 40], "title": "Number of alleles"}},
               "text": {"field": "lab"}
             }},
            {"data": {"name": "letters"}, "transform": [{"filter": "datum.panel === 'A'"}], "mark": {"type": "text", "align": "center", "baseline": "middle", "font": "Liberation Sans", "fontSize": 26, "fontWeight": "bold", "color": "#000"},
             "encoding": {
               "y": {"field": "f", "type": "quantitative", "axis": {"values": [0, 0.2, 0.4, 0.6, 0.8, 1], "format": ".1f", "title": "Cumulative Frequency"}},
               "x": {"field": "n", "type": "quantitative", "axis": {"values": [5, 10, 15, 20, 25, 30, 35, 40], "title": "Number of alleles"}},
               "text": {"field": "panel"}
             }},
            {"data": {"name": "curves"}, "transform": [{"filter": "datum.panel === 'A'"}], "mark": {"type": "line", "strokeWidth": 1.3},
             "encoding": {
               "x": {"field": "n", "type": "quantitative", "axis": {"values": [5, 10, 15, 20, 25, 30, 35, 40], "title": "Number of alleles"}},
               "y": {"field": "f", "type": "quantitative", "axis": {"values": [0, 0.2, 0.4, 0.6, 0.8, 1], "format": ".1f", "title": "Cumulative Frequency"}},
               "stroke": {"field": "pop", "type": "nominal", "scale": {"domain": ["South Africans", "Kenyan Nandi", "Kenyan Luo", "Zambians", "Ugandans"], "range": ["#7A12A3", "#1EB51E", "#0B19F2", "#FF2B8A", "#FF1414"]},
                 "legend": {"orient": "none", "direction": "horizontal", "legendX": 236, "legendY": 306, "title": null, "labelFont": "Liberation Serif", "labelFontSize": 15, "labelColor": "#222", "symbolSize": 576, "symbolStrokeWidth": 1.5, "labelOffset": 13, "columnPadding": 34}}
             }},
            {"data": {"name": "curves"}, "transform": [{"filter": "datum.panel === 'A'"}], "mark": {"type": "point", "filled": true, "opacity": 1, "size": 640, "strokeWidth": 0},
             "encoding": {
               "x": {"field": "n", "type": "quantitative", "axis": {"values": [5, 10, 15, 20, 25, 30, 35, 40], "title": "Number of alleles"}},
               "y": {"field": "f", "type": "quantitative", "axis": {"values": [0, 0.2, 0.4, 0.6, 0.8, 1], "format": ".1f", "title": "Cumulative Frequency"}},
               "color": {"field": "pop", "type": "nominal", "scale": {"domain": ["South Africans", "Kenyan Nandi", "Kenyan Luo", "Zambians", "Ugandans"], "range": ["#7A12A3", "#1EB51E", "#0B19F2", "#FF2B8A", "#FF1414"]},
                 "legend": {"orient": "none", "direction": "horizontal", "legendX": 236, "legendY": 306, "title": null, "labelFont": "Liberation Serif", "labelFontSize": 15, "labelColor": "#222", "symbolSize": 576, "symbolStrokeWidth": 1.5, "labelOffset": 13, "columnPadding": 34}},
               "shape": {"field": "pop", "type": "nominal", "scale": {"domain": ["South Africans", "Kenyan Nandi", "Kenyan Luo", "Zambians", "Ugandans"], "range": [
                 "M-1,0H1M-0.33,0A0.33,0.33,0,1,0,0.33,0A0.33,0.33,0,1,0,-0.33,0Z",
                 "M-1,0H1M-0.31,-0.31H0.31V0.31H-0.31Z",
                 "M-1,0H1M0,-0.38L0.38,0.28H-0.38Z",
                 "M-1,0H1M-0.09,-0.38H0.09V-0.09H0.38V0.09H0.09V0.38H-0.09V0.09H-0.38V-0.09H-0.09Z",
                 "M-1,0H1M0,-0.36L0.3,0L0,0.36L-0.3,0Z"]},
                 "legend": {"orient": "none", "direction": "horizontal", "legendX": 236, "legendY": 306, "title": null, "labelFont": "Liberation Serif", "labelFontSize": 15, "labelColor": "#222", "symbolSize": 576, "symbolStrokeWidth": 1.5, "labelOffset": 13, "columnPadding": 34}}
             }}
          ]
        },
        {
          "width": 323, "height": 219,
          "title": {"text": "HLA ~B", "anchor": "middle", "frame": "group", "font": "Liberation Serif", "fontSize": 14, "fontWeight": "bold", "color": "#111", "offset": -19.5},
          "layer": [
            {"data": {"name": "refs"}, "mark": {"type": "rule", "strokeDash": [0.01, 7.3], "strokeCap": "round", "strokeWidth": 2.4, "color": "#222"},
             "encoding": {
               "y": {"field": "lvl", "type": "quantitative", "scale": {"domain": [0, 1], "nice": false}, "axis": {"values": [0, 0.2, 0.4, 0.6, 0.8, 1], "format": ".1f", "title": "Cumulative Frequency"}},
               "x": {"datum": 0, "type": "quantitative", "scale": {"domain": [0, 90], "nice": false, "zero": false}, "axis": {"values": [0, 20, 40, 60, 80], "title": "Number of alleles"}},
               "x2": {"datum": 89}
             }},
            {"data": {"name": "refs"}, "mark": {"type": "text", "align": "right", "baseline": "top", "dy": 4, "font": "Liberation Serif", "fontSize": 16, "color": "#222"},
             "encoding": {
               "y": {"field": "lvl", "type": "quantitative", "axis": {"values": [0, 0.2, 0.4, 0.6, 0.8, 1], "format": ".1f", "title": "Cumulative Frequency"}},
               "x": {"datum": 89.1, "type": "quantitative", "axis": {"values": [0, 20, 40, 60, 80], "title": "Number of alleles"}},
               "text": {"field": "lab"}
             }},
            {"data": {"name": "letters"}, "transform": [{"filter": "datum.panel === 'B'"}], "mark": {"type": "text", "align": "center", "baseline": "middle", "font": "Liberation Sans", "fontSize": 26, "fontWeight": "bold", "color": "#000"},
             "encoding": {
               "y": {"field": "f", "type": "quantitative", "axis": {"values": [0, 0.2, 0.4, 0.6, 0.8, 1], "format": ".1f", "title": "Cumulative Frequency"}},
               "x": {"field": "n", "type": "quantitative", "axis": {"values": [0, 20, 40, 60, 80], "title": "Number of alleles"}},
               "text": {"field": "panel"}
             }},
            {"data": {"name": "curves"}, "transform": [{"filter": "datum.panel === 'B'"}], "mark": {"type": "line", "strokeWidth": 1.3},
             "encoding": {
               "x": {"field": "n", "type": "quantitative", "axis": {"values": [0, 20, 40, 60, 80], "title": "Number of alleles"}},
               "y": {"field": "f", "type": "quantitative", "axis": {"values": [0, 0.2, 0.4, 0.6, 0.8, 1], "format": ".1f", "title": "Cumulative Frequency"}},
               "stroke": {"field": "pop", "type": "nominal",
                 "legend": {"orient": "none", "direction": "horizontal", "legendX": 236, "legendY": 306, "title": null, "labelFont": "Liberation Serif", "labelFontSize": 15, "labelColor": "#222", "symbolSize": 576, "symbolStrokeWidth": 1.5, "labelOffset": 13, "columnPadding": 34}}
             }},
            {"data": {"name": "curves"}, "transform": [{"filter": "datum.panel === 'B'"}], "mark": {"type": "point", "filled": true, "opacity": 1, "size": 380, "strokeWidth": 0},
             "encoding": {
               "x": {"field": "n", "type": "quantitative", "axis": {"values": [0, 20, 40, 60, 80], "title": "Number of alleles"}},
               "y": {"field": "f", "type": "quantitative", "axis": {"values": [0, 0.2, 0.4, 0.6, 0.8, 1], "format": ".1f", "title": "Cumulative Frequency"}},
               "color": {"field": "pop", "type": "nominal",
                 "legend": {"orient": "none", "direction": "horizontal", "legendX": 236, "legendY": 306, "title": null, "labelFont": "Liberation Serif", "labelFontSize": 15, "labelColor": "#222", "symbolSize": 576, "symbolStrokeWidth": 1.5, "labelOffset": 13, "columnPadding": 34}},
               "shape": {"field": "pop", "type": "nominal",
                 "legend": {"orient": "none", "direction": "horizontal", "legendX": 236, "legendY": 306, "title": null, "labelFont": "Liberation Serif", "labelFontSize": 15, "labelColor": "#222", "symbolSize": 576, "symbolStrokeWidth": 1.5, "labelOffset": 13, "columnPadding": 34}}
             }}
          ]
        },
        {
          "width": 331, "height": 219,
          "title": {"text": "HLA ~C", "anchor": "middle", "frame": "group", "font": "Liberation Serif", "fontSize": 14, "fontWeight": "bold", "color": "#111", "offset": -13},
          "layer": [
            {"data": {"name": "refs"}, "mark": {"type": "rule", "strokeDash": [0.01, 7.3], "strokeCap": "round", "strokeWidth": 2.4, "color": "#222"},
             "encoding": {
               "y": {"field": "lvl", "type": "quantitative", "scale": {"domain": [0, 1], "nice": false}, "axis": {"values": [0, 0.2, 0.4, 0.6, 0.8, 1], "format": ".1f", "title": "Cumulative Frequency"}},
               "x": {"datum": 0.4, "type": "quantitative", "scale": {"domain": [0, 25], "nice": false, "zero": false}, "axis": {"values": [0, 5, 10, 15, 20, 25], "title": "Number of alleles"}},
               "x2": {"datum": 24.7}
             }},
            {"data": {"name": "refs"}, "mark": {"type": "text", "align": "right", "baseline": "top", "dy": 4, "font": "Liberation Serif", "fontSize": 16, "color": "#222"},
             "encoding": {
               "y": {"field": "lvl", "type": "quantitative", "axis": {"values": [0, 0.2, 0.4, 0.6, 0.8, 1], "format": ".1f", "title": "Cumulative Frequency"}},
               "x": {"datum": 24.8, "type": "quantitative", "axis": {"values": [0, 5, 10, 15, 20, 25], "title": "Number of alleles"}},
               "text": {"field": "lab"}
             }},
            {"data": {"name": "letters"}, "transform": [{"filter": "datum.panel === 'C'"}], "mark": {"type": "text", "align": "center", "baseline": "middle", "font": "Liberation Sans", "fontSize": 26, "fontWeight": "bold", "color": "#000"},
             "encoding": {
               "y": {"field": "f", "type": "quantitative", "axis": {"values": [0, 0.2, 0.4, 0.6, 0.8, 1], "format": ".1f", "title": "Cumulative Frequency"}},
               "x": {"field": "n", "type": "quantitative", "axis": {"values": [0, 5, 10, 15, 20, 25], "title": "Number of alleles"}},
               "text": {"field": "panel"}
             }},
            {"data": {"name": "curves"}, "transform": [{"filter": "datum.panel === 'C'"}], "mark": {"type": "line", "strokeWidth": 1.3},
             "encoding": {
               "x": {"field": "n", "type": "quantitative", "axis": {"values": [0, 5, 10, 15, 20, 25], "title": "Number of alleles"}},
               "y": {"field": "f", "type": "quantitative", "axis": {"values": [0, 0.2, 0.4, 0.6, 0.8, 1], "format": ".1f", "title": "Cumulative Frequency"}},
               "stroke": {"field": "pop", "type": "nominal",
                 "legend": {"orient": "none", "direction": "horizontal", "legendX": 236, "legendY": 306, "title": null, "labelFont": "Liberation Serif", "labelFontSize": 15, "labelColor": "#222", "symbolSize": 576, "symbolStrokeWidth": 1.5, "labelOffset": 13, "columnPadding": 34}}
             }},
            {"data": {"name": "curves"}, "transform": [{"filter": "datum.panel === 'C'"}], "mark": {"type": "point", "filled": true, "opacity": 1, "size": 420, "strokeWidth": 0},
             "encoding": {
               "x": {"field": "n", "type": "quantitative", "axis": {"values": [0, 5, 10, 15, 20, 25], "title": "Number of alleles"}},
               "y": {"field": "f", "type": "quantitative", "axis": {"values": [0, 0.2, 0.4, 0.6, 0.8, 1], "format": ".1f", "title": "Cumulative Frequency"}},
               "color": {"field": "pop", "type": "nominal",
                 "legend": {"orient": "none", "direction": "horizontal", "legendX": 236, "legendY": 306, "title": null, "labelFont": "Liberation Serif", "labelFontSize": 15, "labelColor": "#222", "symbolSize": 576, "symbolStrokeWidth": 1.5, "labelOffset": 13, "columnPadding": 34}},
               "shape": {"field": "pop", "type": "nominal",
                 "legend": {"orient": "none", "direction": "horizontal", "legendX": 236, "legendY": 306, "title": null, "labelFont": "Liberation Serif", "labelFontSize": 15, "labelColor": "#222", "symbolSize": 576, "symbolStrokeWidth": 1.5, "labelOffset": 13, "columnPadding": 34}}
             }}
          ]
        }
      ],
      "spacing": 55
    },
    {
      "width": 1290, "height": 110,
      "data": {"name": "caption"},
      "encoding": {"y": {"field": "line", "type": "ordinal", "axis": null}, "text": {"field": "text"}},
      "layer": [
        {"transform": [{"filter": "datum.part === 'bold'"}], "mark": {"type": "text", "align": "left", "baseline": "middle", "x": 0, "dx": -72.5, "font": "Liberation Sans", "fontSize": 18.4, "fontWeight": "bold", "color": "#111"}},
        {"transform": [{"filter": "datum.part === 'lead'"}], "mark": {"type": "text", "align": "left", "baseline": "middle", "x": 0, "dx": 34.5, "font": "Liberation Sans", "fontSize": 17.4, "color": "#222"}},
        {"transform": [{"filter": "datum.part === 'body'"}], "mark": {"type": "text", "align": "left", "baseline": "middle", "x": 0, "dx": -72.5, "font": "Liberation Sans", "fontSize": 17.4, "color": "#222"}}
      ]
    }
  ],
  "spacing": 86,
  "config": {
    "view": {"stroke": null},
    "axis": {"grid": false, "labelFont": "Liberation Serif", "titleFont": "Liberation Serif", "labelFontSize": 16, "titleFontSize": 15, "titleFontWeight": "normal", "labelColor": "#222", "titleColor": "#222", "domainColor": "#333", "domainWidth": 1.5, "tickColor": "#333", "tickWidth": 1.5, "tickSize": 7},
    "axisX": {"labelPadding": 6, "titlePadding": 8},
    "axisY": {"labelPadding": 2, "titlePadding": 6}
  }
}
